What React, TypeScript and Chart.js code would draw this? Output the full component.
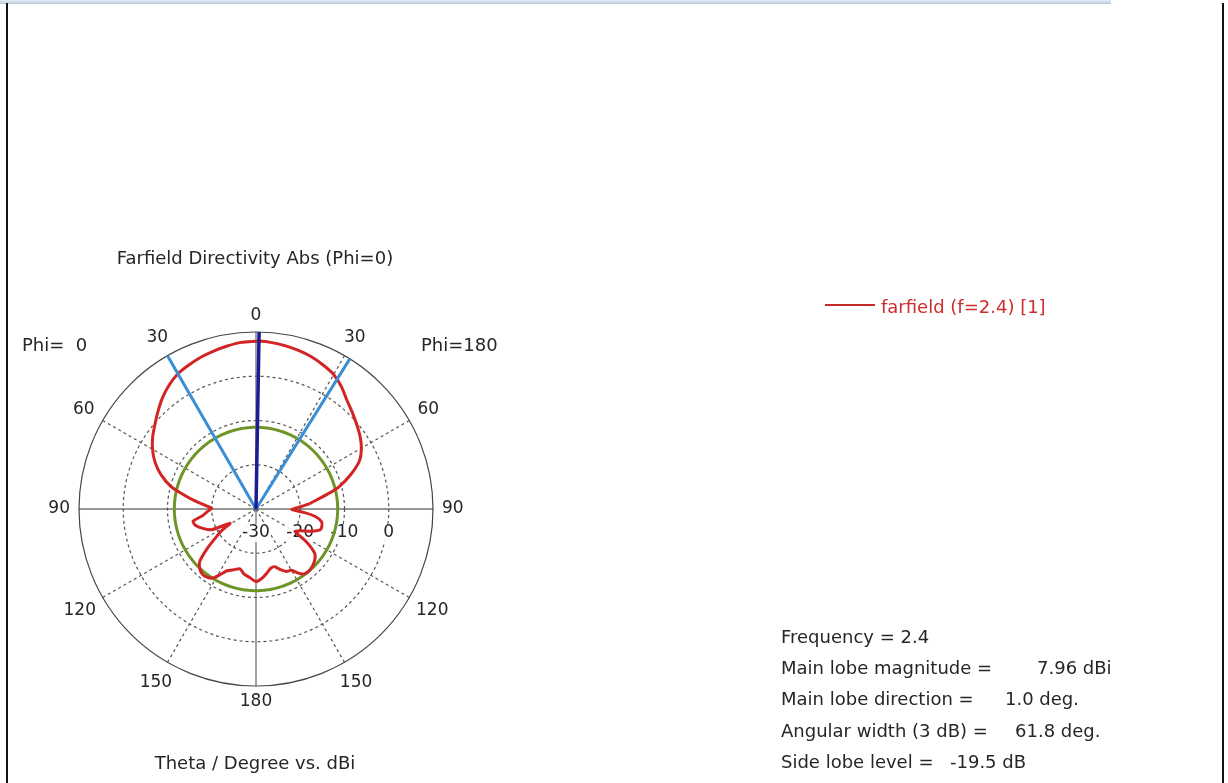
import React, { useEffect, useRef } from 'react';
import { Chart, registerables } from 'chart.js';

Chart.register(...registerables);

const FONT = '"DejaVu Sans", Verdana, sans-serif';

// Farfield directivity (dBi), Phi = 180 half-plane (right side of the polar plot)
const phi180Theta = [0, 1, 5, 10, 15, 20, 25, 30, 35, 40, 45, 50, 55, 60, 65, 70, 75, 78, 81, 85, 88, 91, 94, 97, 101, 105, 108, 112, 116, 120, 123, 127, 131, 135, 139, 143, 146, 150, 154, 158, 162, 166, 170, 175, 180];
const phi180Gain = [7.9, 7.96, 7.8, 7.5, 7.1, 6.6, 5.9, 5.1, 3.7, 2.0, 0.8, -0.3, -1.3, -2.5, -4.2, -7.2, -10.6, -13.3, -15.8, -18.3, -20.5, -21.9, -19.2, -16.6, -14.9, -14.6, -14.8, -16.6, -18.8, -19.8, -16.5, -13.4, -12.4, -11.9, -11.6, -11.7, -12.4, -14.0, -14.3, -15.2, -16.3, -16.2, -15.4, -14.3, -13.6];

// Farfield directivity (dBi), Phi = 0 half-plane (left side of the polar plot)
const phi0Theta = [5, 10, 15, 20, 25, 30, 35, 40, 45, 50, 55, 60, 65, 70, 75, 78, 82, 86, 89, 93, 97, 101, 105, 110, 115, 119, 122, 125, 129, 133, 137, 141, 145, 148, 151, 155, 160, 165, 170, 175];
const phi0Gain = [7.8, 7.4, 6.95, 6.5, 5.9, 5.3, 4.2, 2.85, 1.3, -0.2, -1.5, -3.0, -4.8, -7.1, -10.0, -12.6, -15.7, -18.5, -20.0, -19.0, -17.9, -15.5, -15.8, -17.2, -18.9, -23.3, -21.0, -19.1, -15.8, -12.6, -11.4, -10.9, -11.1, -11.6, -12.9, -14.6, -15.4, -16.0, -15.0, -14.4];

// Summary values
const frequency = 2.4;
const mainLobeMagnitude = 7.96;
const mainLobeDirection = 1.0;
const angularWidth3dB = 61.8;
const sideLobeLevel = -19.5;

// Radial axis (dBi)
const radialMin = -30;
const radialMax = 10;
const radialStep = 10;
const radialTickLabels = [-30, -20, -10, 0];
const angleLabelStep = 30;

const infoLabels = ['Frequency = 2.4', 'Main lobe magnitude =', 'Main lobe direction =', 'Angular width (3 dB) =', 'Side lobe level ='];
const infoValues = ['', '7.96 dBi', '1.0 deg.', '61.8 deg.', '-19.5 dB'];

// ---- tables built for the library ----
const N = 360;
const labels = Array.from({ length: N }, (_, i) => String(i <= 180 ? i : 360 - i));

const farfieldData: (number | null)[] = Array(N).fill(null);
phi180Theta.forEach((t, k) => { farfieldData[t % N] = phi180Gain[k]; });
phi0Theta.forEach((t, k) => { farfieldData[(N - t) % N] = phi0Gain[k]; });

const sllValue = mainLobeMagnitude + sideLobeLevel;
const sllData: number[] = Array(N).fill(sllValue);

const mainDirIdx = Math.round(mainLobeDirection);
const mainLobeData: (number | null)[] = Array(N).fill(null);
mainLobeData[(mainDirIdx - 1 + N) % N] = radialMin;
mainLobeData[mainDirIdx] = radialMax;

const beamData: (number | null)[] = Array(N).fill(null);
const edgeL = (Math.round(mainLobeDirection - angularWidth3dB / 2) + N) % N;
const edgeR = Math.round(mainLobeDirection + angularWidth3dB / 2) % N;
beamData[(edgeL - 1 + N) % N] = radialMin;
beamData[edgeL] = radialMax;
beamData[(edgeR - 1 + N) % N] = radialMin;
beamData[edgeR] = radialMax;

const TEXT = '#262626';

const tickLabelPlugin = {
  id: 'tickLabels',
  beforeDatasetsDraw(chart: any) {
    const scale = chart.scales.r;
    const ctx = chart.ctx;
    ctx.save();
    ctx.font = `17px ${FONT}`;
    ctx.textAlign = 'center';
    ctx.textBaseline = 'middle';
    radialTickLabels.forEach((v) => {
      const x = scale.xCenter + scale.getDistanceFromCenterForValue(v);
      const y = scale.yCenter + 24;
      const t = String(v);
      const w = ctx.measureText(t).width;
      ctx.fillStyle = 'rgba(255,255,255,0.9)';
      ctx.fillRect(x - w / 2 - 1, y - 9, w + 2, 18);
      ctx.fillStyle = TEXT;
      ctx.fillText(t, x, y);
    });
    ctx.restore();
  },
};

const angleLabelPlugin = {
  id: 'angleLabels',
  afterDatasetsDraw(chart: any) {
    const scale = chart.scales.r;
    const ctx = chart.ctx;
    ctx.save();
    ctx.font = `17px ${FONT}`;
    ctx.textAlign = 'center';
    ctx.textBaseline = 'middle';
    ctx.fillStyle = TEXT;
    for (let i = 0; i < N; i += angleLabelStep) {
      const t = chart.data.labels[i];
      const w = ctx.measureText(t).width;
      const a = scale.getIndexAngle(i);
      const d = scale.drawingArea + 9 + Math.abs(Math.sin(a)) * w / 2 + Math.abs(Math.cos(a)) * 7;
      const p = scale.getPointPosition(i, d);
      ctx.fillText(t, p.x, p.y);
    }
    ctx.restore();
  },
};

const abs = (s: React.CSSProperties): React.CSSProperties => ({
  position: 'absolute',
  fontFamily: FONT,
  fontSize: 18,
  lineHeight: '20px',
  color: TEXT,
  whiteSpace: 'pre',
  ...s,
});

export default function App() {
  const ref = useRef<HTMLCanvasElement | null>(null);

  useEffect(() => {
    if (!ref.current) return;
    const chart = new Chart(ref.current, {
      type: 'radar',
      data: {
        labels,
        datasets: [
          { label: 'Main lobe direction', data: mainLobeData, borderColor: 'rgb(28,28,150)', borderWidth: 3.5, order: 0, spanGaps: false, fill: false, backgroundColor: 'transparent' },
          { label: '3 dB angular width', data: beamData, borderColor: 'rgb(58,142,214)', borderWidth: 3, order: 1, spanGaps: false, fill: false, backgroundColor: 'transparent' },
          { label: 'farfield (f=2.4) [1]', data: farfieldData, borderColor: 'rgb(210,36,36)', borderWidth: 3, order: 2, spanGaps: true, tension: 0.2, fill: false, backgroundColor: 'transparent' },
          { label: 'Side lobe level', data: sllData, borderColor: 'rgb(110,148,42)', borderWidth: 3, order: 3, fill: false, backgroundColor: 'transparent' },
        ] as any,
      },
      options: {
        responsive: false,
        animation: false,
        devicePixelRatio: 1,
        layout: { padding: { left: 79, right: 795, top: 332, bottom: 97 } },
        elements: {
          point: { radius: 0, hitRadius: 0, hoverRadius: 0 },
          line: { borderJoinStyle: 'round', borderCapStyle: 'butt' },
        },
        plugins: {
          legend: { display: false },
          tooltip: { enabled: false },
          title: { display: false },
        },
        scales: {
          r: {
            min: radialMin,
            max: radialMax,
            startAngle: 0,
            ticks: { display: false, stepSize: radialStep },
            pointLabels: { display: false },
            grid: {
              circular: true,
              color: (c: any) => (c.index === 4 ? '#444' : '#555'),
              lineWidth: (c: any) => (c.index === 0 ? 0 : 1.2),
            },
            border: { dash: (c: any) => (c.index === 4 ? [] : [3, 3]) },
            angleLines: {
              display: true,
              color: (c: any) => (c.index === 90 || c.index === 270 ? '#333' : c.index % 90 === 0 ? '#666' : '#555'),
              lineWidth: (c: any) => (c.index % angleLabelStep === 0 ? 1.2 : 0),
              borderDash: (c: any) => (c.index % 90 === 0 ? [] : [3, 3]),
            },
          } as any,
        },
      },
      plugins: [tickLabelPlugin, angleLabelPlugin],
    });
    return () => chart.destroy();
  }, []);

  const infoTops = [627, 658, 689, 721, 752];
  const valueLefts = [0, 1037, 1005, 1015, 950];

  return (
    <div style={{ position: 'absolute', left: 0, top: 0, width: 1228, height: 783, background: '#fff', overflow: 'hidden' }}>
      <canvas ref={ref} width={1228} height={783} style={{ position: 'absolute', left: 0, top: 0, display: 'block' }} />
      <div style={{ position: 'absolute', left: 0, top: 0, width: 1111, height: 4, background: 'linear-gradient(#e4ecf4, #b8c8da)' }} />
      <div style={{ position: 'absolute', left: 6, top: 3, width: 2, height: 780, background: '#111' }} />
      <div style={{ position: 'absolute', left: 1222, top: 3, width: 2, height: 780, background: '#111' }} />

      <div style={abs({ left: 0, width: 510, top: 248, textAlign: 'center' })}>Farfield Directivity Abs (Phi=0)</div>
      <div style={abs({ left: 0, width: 510, top: 753, textAlign: 'center' })}>Theta / Degree vs. dBi</div>
      <div style={abs({ left: 22, top: 335 })}>{'Phi=  0'}</div>
      <div style={abs({ left: 421, top: 335 })}>{'Phi=180'}</div>

      <div style={{ position: 'absolute', left: 825, top: 304, width: 50, height: 2, background: 'rgb(200,40,40)' }} />
      <div style={abs({ left: 881, top: 297, color: 'rgb(205,45,45)' })}>{`farfield (f=${frequency}) [1]`}</div>

      {infoLabels.map((l, i) => (
        <React.Fragment key={i}>
          <div style={abs({ left: 781, top: infoTops[i] })}>{l}</div>
          {infoValues[i] ? <div style={abs({ left: valueLefts[i], top: infoTops[i] })}>{infoValues[i]}</div> : null}
        </React.Fragment>
      ))}
    </div>
  );
}
